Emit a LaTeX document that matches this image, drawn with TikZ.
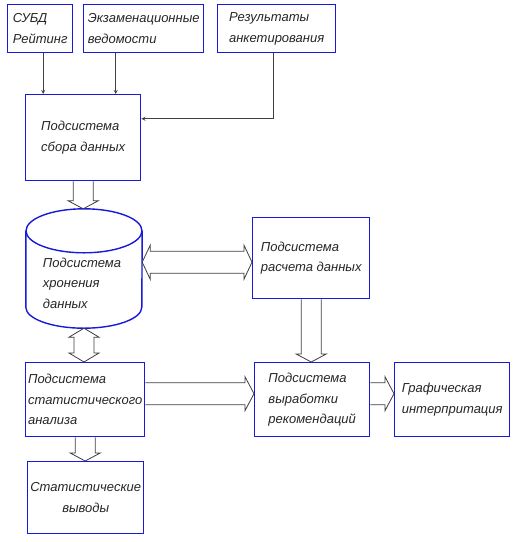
\documentclass[tikz,border=0pt]{standalone}
\usepackage{fontspec}
\setmainfont{Liberation Sans}
\usetikzlibrary{calc}
\definecolor{boxBlue}{rgb}{0.1,0.1,0.85}
\definecolor{lineGray}{rgb}{0.25,0.25,0.25}

\tikzset{
 lbl/.style={font=\itshape\fontsize{13}{20.5}\selectfont, text=black!85, align=left},
 blk/.style={lbl, draw=boxBlue, line width=1.4pt, inner sep=0pt, anchor=north west},
 cylline/.style={draw=boxBlue, line width=1.4pt},
 flow/.style={draw=lineGray, line width=0.8pt},
 wire/.style={draw=lineGray, line width=0.8pt, -stealth}
}
\newcommand{\vflow}[2]{\draw[flow] ($(#1)+(-10,0)$) -- ($(#1 |- #2)+(-10,-8)$) -- ++(-5,0) -- (#1 |- #2) -- ++(15,-8) -- ++(-5,0) -- ($(#1)+(10,0)$);}
\newcommand{\vvflow}[2]{\draw[flow] (#1) -- ++(-15,9) -- ++(5,0) -- ($(#1 |- #2)+(-10,-9)$) -- ++(-5,0) -- (#1 |- #2) -- ++(15,-9) -- ++(-5,0) -- ($(#1)+(10,9)$) -- ++(5,0) -- cycle;}
\newcommand{\hflow}[2]{\draw[flow] ($(#1)+(0,-11)$) -- ($(#2 |- #1)+(-9,-11)$) -- ++(0,-6) -- (#2 |- #1) -- ++(-9,17) -- ++(0,-6) -- ($(#1)+(0,11)$);}
\newcommand{\hhflow}[2]{\draw[flow] (#1 |- #2) -- ++(8,-17) -- ++(0,6) -- ($(#2)+(-8,-11)$) -- ++(0,-6) -- (#2) -- ++(-8,17) -- ++(0,-6) -- ($(#1 |- #2)+(8,11)$) -- ++(0,6) -- cycle;}

\begin{document}
\begin{tikzpicture}[x=1pt, y=-1pt]
 \useasboundingbox[fill=white] (0,0) rectangle (517,542);
 \node[blk, minimum width=65pt, minimum height=48pt] (subd) at (7,4) {СУБД\\Рейтинг};
 \node[blk, minimum width=120pt, minimum height=48pt] (exam) at (83,4) {Экзаменационные\\ведомости};
 \node[blk, minimum width=118pt, minimum height=48pt] (res) at (217,4) {Результаты\\анкетирования};
 \node[blk, minimum width=115pt, minimum height=86pt] (sbor) at (25,94) {Подсистема\\сбора данных};
 % storage cylinder
 \node[minimum width=116pt, minimum height=76pt, inner sep=0pt] (hran) at (84,269) {};
 \draw[cylline] (hran.north west) -- (hran.south west) arc[start angle=180, end angle=360, x radius=58pt, y radius=21pt] -- (hran.north east);
 \draw[cylline] (hran.north) ellipse[x radius=58pt, y radius=22pt];
 \node[lbl] (hrantxt) at (82,283) {Подсистема\\хронения\\данных};
 \coordinate (htop) at ([yshift=22pt]hran.north);
 \coordinate (hbot) at ([yshift=-21pt]hran.south);
 \node[blk, minimum width=117pt, minimum height=81pt] (raschet) at (252,217) {Подсистема\\расчета данных};
 \node[blk, minimum width=119pt, minimum height=74pt] (stat) at (25,362) {Подсистема\\статистического\\анализа};
 \node[blk, minimum width=115pt, minimum height=74pt] (vyrab) at (254,362) {Подсистема\\выработки\\рекомендаций};
 \node[blk, minimum width=115pt, minimum height=74pt] (graf) at (394,362) {Графическая\\интерпритация};
 \node[blk, align=center, minimum width=116pt, minimum height=72pt] (vyvody) at (27,461) {Статистические\\выводы};

 \draw[wire] ([xshift=3pt]subd.south) -- ([xshift=3pt]subd.south |- sbor.north);
 \coordinate (ex) at ([xshift=-28pt]exam.south);
 \draw[wire] (ex) -- (ex |- sbor.north);
 \coordinate (sr) at ([yshift=19pt]sbor.east);
 \draw[wire] ([xshift=-3pt]res.south) |- (sr);

 \vflow{sbor.south}{htop}
 \coordinate (rr) at ([yshift=-4pt]raschet.west);
 \hhflow{hran.east}{rr}
 \vvflow{hbot}{stat.north}
 \vflow{raschet.south}{vyrab.north}
 \coordinate (sa) at ([yshift=6pt]stat.east);
 \hflow{sa}{vyrab.west}
 \coordinate (va) at ([yshift=6pt]vyrab.east);
 \hflow{va}{graf.west}
 \vflow{stat.south}{vyvody.north}
\end{tikzpicture}
\end{document}
